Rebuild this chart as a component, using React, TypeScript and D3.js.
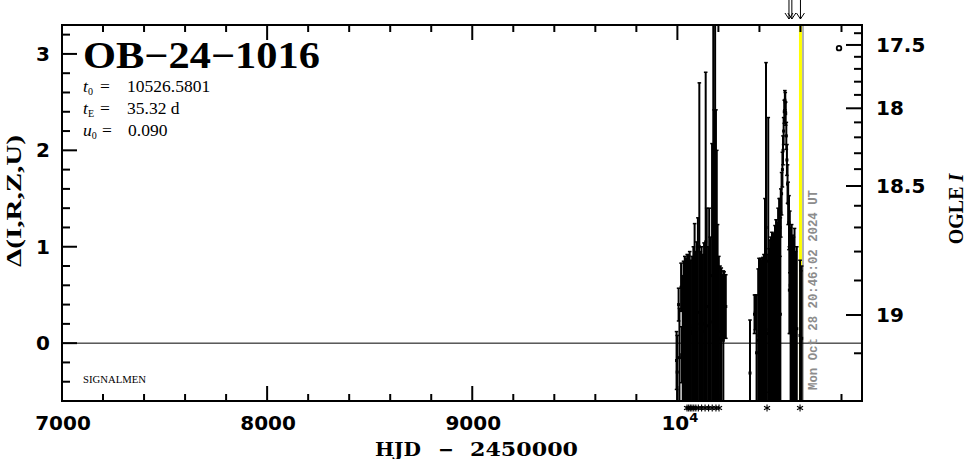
import React from 'react';
import * as d3 from 'd3';

const W = 966;
const H = 459;

// axis domains
const xDomain = [7000, 10900];
const yDomain = [-0.6, 3.3];

// observations: HJD-2450000, delta flux, error
const obsHJD = [
  9996, 9999, 10006, 10010, 10018, 10021, 10026, 10030, 10036, 10042, 10048, 10054, 10060, 10066, 10072,
  10078, 10084, 10090, 10095, 10100, 10107, 10112, 10118, 10124, 10130, 10138, 10143, 10150, 10155, 10160,
  10169, 10175, 10179, 10184, 10188, 10192, 10196, 10202, 10208, 10214, 10220, 10224, 10228, 10236,
  10354, 10376, 10380, 10386, 10394, 10398, 10402, 10407, 10412, 10417, 10422, 10427, 10432, 10436, 10443,
  10447, 10452, 10456, 10461, 10466, 10471, 10476, 10481, 10486, 10491, 10496, 10500, 10502, 10504, 10508,
  10512, 10515, 10518, 10521, 10524, 10526, 10528, 10531, 10534, 10537, 10540, 10544, 10546, 10548, 10550,
  10552, 10557, 10562, 10566, 10571, 10576, 10582, 10598, 10602, 10606,
];
const obsDelta = [
  -0.18, -0.30, 0.40, -0.15, 0.58, -0.12, 0.0, 0.10, 0.12, 0.10, 0.15, 0.13, 0.15, 0.10, 0.12,
  0.18, 0.30, 0.15, 0.20, 0.32, 1.00, 0.15, 0.18, 0.12, 0.20, 1.05, 0.38, 0.18, 0.38, 0.22,
  0.70, 1.40, 0.88, 1.45, 0.86, 0.65, 0.28, 0.12, 0.05, 0.04, 0.38, 0.03, 0.40, 0.38,
  -0.31, 0.30, 0.32, -0.10, 0.03, 0.08, 0.07, 0.08, 0.08, 0.09, 0.10, 0.40, 1.20, 0.10, 0.85,
  0.14, 0.18, 0.20, 0.22, 0.22, 0.21, 0.26, 0.29, 0.28, 0.35, 0.40, 1.20, 0.30, 1.35, 1.55,
  1.80, 2.00, 2.20, 2.40, 2.52, 2.50, 2.38, 2.15, 1.90, 1.65, 1.45, 1.25, 0.55, 1.05, 0.60,
  0.25, 0.27, 0.22, 0.20, 0.25, 0.13, 0.15, 0.08, 0.03, 0.05,
];
const obsErr = [
  0.30, 0.38, 0.17, 0.51, 0.25, 0.29, 0.70, 0.75, 0.78, 0.78, 0.77, 0.78, 0.80, 0.76, 0.78,
  0.82, 0.94, 0.80, 0.85, 0.98, 1.70, 0.80, 0.82, 0.80, 0.84, 1.76, 1.02, 0.82, 1.02, 0.88,
  1.37, 2.10, 1.54, 2.15, 1.56, 1.35, 0.95, 0.78, 0.75, 0.74, 0.33, 0.72, 0.34, 0.33,
  0.55, 0.20, 0.18, 0.60, 0.74, 0.80, 0.78, 0.80, 0.78, 0.80, 0.82, 1.10, 1.71, 0.82, 1.49,
  0.84, 0.89, 0.90, 0.93, 0.92, 0.91, 0.96, 0.99, 0.97, 1.05, 1.10, 0.30, 1.00, 0.25, 0.22,
  0.18, 0.15, 0.14, 0.12, 0.10, 0.10, 0.12, 0.14, 0.16, 0.20, 0.22, 0.28, 0.45, 0.32, 0.50,
  0.95, 0.96, 0.90, 0.90, 0.94, 0.82, 0.85, 0.78, 0.72, 0.75,
];

// OGLE I magnitude calibration against delta
const calMag = [17.4, 17.5, 17.6, 17.7, 17.8, 17.9, 18.0, 18.1, 18.2, 18.3, 18.4, 18.5, 18.6, 18.7, 18.8, 18.9, 19.0, 19.1];
const calDelta = [3.215, 3.093, 2.97, 2.845, 2.712, 2.575, 2.436, 2.29, 2.135, 1.97, 1.805, 1.63, 1.425, 1.2, 0.95, 0.65, 0.292, -0.105];
const ogleMajor = [17.5, 18, 18.5, 19];
const ogleLabels = ['17.5', '18', '18.5', '19'];

const xMajor = [7000, 8000, 9000];
const xMajorLabels = ['7000', '8000', '9000'];
const xPowTick = 10000;
const yMajor = [0, 1, 2, 3];
const yMajorLabels = ['0', '1', '2', '3'];

// markers
const starsHJD = [10047, 10055, 10063, 10071, 10080, 10090, 10102, 10118, 10135, 10152, 10170, 10188, 10203, 10437, 10598];
const arrowsHJD = [10544, 10558, 10600];
const yellowHJD = 10600;
const nowHJD = 10612.37;
const legendPoint = { hjd: 10788, delta: 3.06 };

const title = 'OB\u221224\u22121016';
const t0Text = '10526.5801';
const tEText = '35.32 d';
const u0Text = '0.090';
const dateText = 'Mon Oct 28 20:46:02 2024 UT';

export default function App() {
  const L = 62, R = 862, T = 25, B = 401;
  const x = d3.scaleLinear().domain(xDomain).range([L, R]);
  const y = d3.scaleLinear().domain(yDomain).range([B, T]);
  const magToDelta = d3.scaleLinear().domain(calMag).range(calDelta);

  const xMinor = d3.range(36, 55).map((i) => i * 200).filter((v) => v % 1000 !== 0);
  const xMaj = [8000, 9000, 10000];
  const yMinor = d3.range(-2, 17).map((i) => +(i * 0.2).toFixed(1)).filter((v) => Math.abs(v - Math.round(v)) > 0.01);
  const magTicks = d3.range(174, 192).map((v) => v / 10);

  const numFont = { fontFamily: 'DejaVu Sans', fontWeight: 'bold' as const, fontSize: 20 };
  const serif = 'Liberation Serif';

  const star = (cx: number, cy: number, s: number) => {
    const a = s * 0.866, b = s * 0.5;
    return `M${cx},${cy - s}L${cx},${cy + s}M${cx - a},${cy - b}L${cx + a},${cy + b}M${cx - a},${cy + b}L${cx + a},${cy - b}`;
  };

  return (
    <svg width={W} height={H} style={{ position: 'absolute', left: 0, top: 0, background: '#fff' }}>
      <defs>
        <clipPath id="plotclip">
          <rect x={L} y={T} width={R - L} height={B - T} />
        </clipPath>
      </defs>
      <rect x={0} y={0} width={W} height={H} fill="#fff" />

      {/* current date / yellow lines */}
      <line x1={x(yellowHJD)} x2={x(yellowHJD)} y1={T} y2={B} stroke="#ffff00" strokeWidth={3} />
      <line x1={x(nowHJD)} x2={x(nowHJD)} y1={T} y2={B} stroke="#999" strokeWidth={1.5} />

      {/* zero line */}
      <line x1={L} x2={R} y1={y(0)} y2={y(0)} stroke="#000" strokeWidth={1} />

      {/* data */}
      <g clipPath="url(#plotclip)" stroke="#000">
        {obsHJD.map((h, i) => {
          const cx = x(h);
          const y1 = y(obsDelta[i] + obsErr[i]);
          const y2 = y(obsDelta[i] - obsErr[i]);
          return (
            <g key={i}>
              <line x1={cx} x2={cx} y1={y1} y2={y2} strokeWidth={2} />
              <line x1={cx - 1.8} x2={cx + 1.8} y1={y1} y2={y1} strokeWidth={1.5} />
              <line x1={cx - 1.8} x2={cx + 1.8} y1={y2} y2={y2} strokeWidth={1.5} />
              <rect x={cx - 1.5} y={y(obsDelta[i]) - 1.5} width={3} height={3} fill="#000" stroke="none" />
            </g>
          );
        })}
      </g>

      {/* legend circle */}
      <circle cx={x(legendPoint.hjd)} cy={y(legendPoint.delta)} r={2.3} fill="#fff" stroke="#000" strokeWidth={1.8} />

      {/* vertical date */}
      <text
        transform={`translate(${x(nowHJD) + 14},${B - 11}) rotate(-90)`}
        fontFamily="Liberation Mono"
        fontWeight="bold"
        fontSize={12.5}
        fill="#8c8c8c"
        textLength={200}
        lengthAdjust="spacingAndGlyphs"
      >
        {dateText}
      </text>

      {/* frame */}
      <rect x={L} y={T} width={R - L} height={B - T} fill="none" stroke="#000" strokeWidth={2} />

      {/* x ticks */}
      <g stroke="#000" strokeWidth={2}>
        {xMinor.map((v) => (
          <g key={'xm' + v}>
            <line x1={x(v)} x2={x(v)} y1={B} y2={B - 7} />
            <line x1={x(v)} x2={x(v)} y1={T} y2={T + 7} />
          </g>
        ))}
        {xMaj.map((v) => (
          <g key={'xM' + v}>
            <line x1={x(v)} x2={x(v)} y1={B} y2={B - 15} />
            <line x1={x(v)} x2={x(v)} y1={T} y2={T + 15} />
          </g>
        ))}
        {/* left y ticks */}
        {yMinor.map((v) => (
          <line key={'ym' + v} x1={L} x2={L + 8} y1={y(v)} y2={y(v)} />
        ))}
        {yMajor.map((v) => (
          <line key={'yM' + v} x1={L} x2={L + 15} y1={y(v)} y2={y(v)} />
        ))}
        {/* right OGLE ticks */}
        {magTicks.map((m) => {
          const major = ogleMajor.some((q) => Math.abs(q - m) < 1e-6);
          const yy = y(magToDelta(m));
          return <line key={'mt' + m} x1={R} x2={R - (major ? 16 : 8)} y1={yy} y2={yy} />;
        })}
      </g>

      {/* x tick labels */}
      {xMajor.map((v, i) => (
        <text key={'xl' + v} x={x(v) + 1} y={430} textAnchor="middle" {...numFont}>
          {xMajorLabels[i]}
        </text>
      ))}
      <text x={x(xPowTick) - 16} y={430} {...numFont}>
        10
        <tspan fontSize={13} dy={-8}>4</tspan>
      </text>

      {/* left labels */}
      {yMajor.map((v, i) => (
        <text key={'yl' + v} x={50} y={y(v) + 7} textAnchor="end" {...numFont}>
          {yMajorLabels[i]}
        </text>
      ))}
      {/* right labels */}
      {ogleMajor.map((m, i) => (
        <text key={'ol' + m} x={876} y={y(magToDelta(m)) + 7} {...numFont}>
          {ogleLabels[i]}
        </text>
      ))}

      {/* axis titles */}
      <g fontFamily="DejaVu Serif" fontWeight="bold" fontSize={19}>
        <text x={375} y={456} textLength={46} lengthAdjust="spacingAndGlyphs">HJD</text>
        <text x={446} y={456} textAnchor="middle">{'\u2212'}</text>
        <text x={470} y={456} textLength={108} lengthAdjust="spacingAndGlyphs">2450000</text>
      </g>
      <text
        transform="translate(21,201) rotate(-90)"
        textAnchor="middle"
        fontFamily={serif}
        fontWeight="bold"
        fontSize={20}
        textLength={132}
        lengthAdjust="spacingAndGlyphs"
      >
        {'\u0394(I,R,Z,U)'}
      </text>
      <text transform="translate(963,209) rotate(-90)" textAnchor="middle" fontFamily={serif} fontWeight="bold" fontSize={20}>
        OGLE <tspan fontStyle="italic">I</tspan>
      </text>

      {/* title & params */}
      <text x={83} y={68} fontFamily={serif} fontWeight="bold" fontSize={37} textLength={237} lengthAdjust="spacingAndGlyphs">
        {title}
      </text>
      <g fontFamily={serif} fontSize={17.5}>
        <text x={83} y={92}>
          <tspan fontStyle="italic">t</tspan>
          <tspan fontSize={10} dy={3}>0</tspan>
          <tspan x={100} dy={-3}>=</tspan>
          <tspan x={127}>{t0Text}</tspan>
        </text>
        <text x={83} y={114}>
          <tspan fontStyle="italic">t</tspan>
          <tspan fontSize={10} dy={3}>E</tspan>
          <tspan x={100} dy={-3}>=</tspan>
          <tspan x={127}>{tEText}</tspan>
        </text>
        <text x={83} y={136}>
          <tspan fontStyle="italic">u</tspan>
          <tspan fontSize={10} dy={3}>0</tspan>
          <tspan x={102} dy={-3}>=</tspan>
          <tspan x={128}>{u0Text}</tspan>
        </text>
      </g>
      <text x={83} y={383} fontFamily={serif} fontSize={10} textLength={63} lengthAdjust="spacingAndGlyphs">
        SIGNALMEN
      </text>

      {/* observation markers below axis */}
      <g stroke="#000" strokeWidth={1.1} fill="none">
        {starsHJD.map((h, i) => (
          <path key={'st' + i} d={star(x(h), 408, 3.5)} />
        ))}
      </g>

      {/* arrows at top */}
      <g stroke="#000" strokeWidth={1} fill="none">
        {arrowsHJD.map((h, i) => (
          <g key={'ar' + i}>
            <line x1={x(h)} x2={x(h)} y1={0} y2={19} />
            <path d={`M${x(h) - 4},${13}L${x(h)},${19}L${x(h) + 4},${13}`} />
          </g>
        ))}
      </g>
    </svg>
  );
}
